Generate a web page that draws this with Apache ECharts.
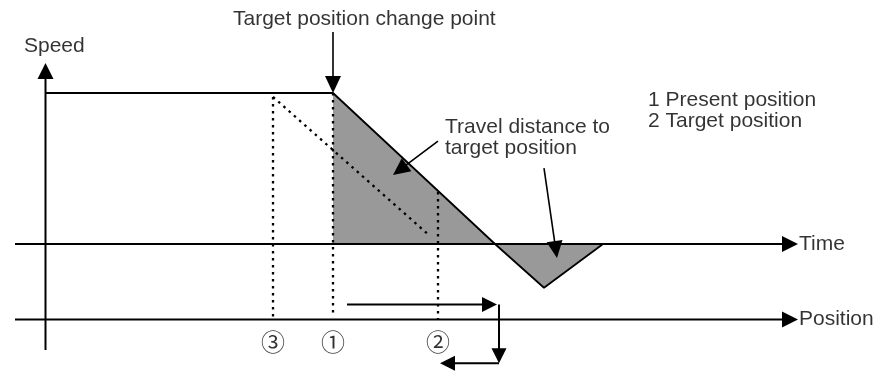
<!DOCTYPE html>
<html>
<head>
<meta charset="utf-8">
<script src="https://cdn.jsdelivr.net/npm/echarts@6/dist/echarts.min.js"></script>
<style>html,body{margin:0;padding:0;background:#fff}#c{width:877px;height:373px}</style>
</head>
<body>
<div id="c"></div>
<script>
// ---- data (time units on x, speed units on y; position axis drawn at y = -50) ----
const speedProfile = [[0, 100], [28.75, 100], [44.95, 0], [49.85, -29], [55.75, 0]];
const travelArea = [[28.75, 100], [44.95, 0], [49.85, -29], [55.75, 0]];
const dottedLines = [
  [22.75, 97.4, 22.75, -48],
  [22.75, 97.4, 38.45, 5.3],
  [28.75, 100, 28.75, -45.7],
  [39.25, 34.4, 39.25, -49.7]
];
const axisArrows = [
  [0, -70.2, 0, 119.9],
  [-3.05, 0, 75.25, 0],
  [-3.05, -50, 75.25, -50]
];
const pointerArrows = [
  [28.75, 140.4, 28.75, 100],
  [39.25, 68.2, 34.75, 45.7],
  [49.85, 50.3, 51.15, -9.3]
];
const positionArrows = [
  [30.15, -40, 45.15, -40],
  [45.35, -40, 45.35, -79],
  [45.35, -79, 39.45, -79]
];
const textLabels = [
  {text: 'Speed', t: -2.15, v: 131, align: 'left'},
  {text: 'Target position change point', t: 18.75, v: 149, align: 'left'},
  {text: 'Travel distance to\ntarget position', t: 39.95, v: 70.5, align: 'left'},
  {text: '1 Present position\n2 Target position', t: 60.25, v: 88, align: 'left'},
  {text: 'Time', t: 75.35, v: 0, align: 'left'},
  {text: 'Position', t: 75.35, v: -50, align: 'left'}
];
const markerLabels = [
  {text: '③', t: 22.75, v: -65},
  {text: '①', t: 28.75, v: -65},
  {text: '②', t: 39.25, v: -65}
];

// ---- rendering ----
const FONT = '"Liberation Sans", Arial, Helvetica, sans-serif';

function arrowSeries(data, lw, L, W) {
  return {
    type: 'custom', silent: true, data: data,
    renderItem: function (params, api) {
      const p1 = api.coord([api.value(0), api.value(1)]);
      const p2 = api.coord([api.value(2), api.value(3)]);
      const dx = p2[0] - p1[0], dy = p2[1] - p1[1];
      const len = Math.hypot(dx, dy);
      const ux = dx / len, uy = dy / len;
      const bx = p2[0] - ux * L, by = p2[1] - uy * L;
      return {
        type: 'group',
        children: [
          {type: 'line', shape: {x1: p1[0], y1: p1[1], x2: bx + ux * 2, y2: by + uy * 2},
           style: {stroke: '#000', lineWidth: lw}},
          {type: 'polygon', shape: {points: [[p2[0], p2[1]], [bx - uy * W, by + ux * W], [bx + uy * W, by - ux * W]]},
           style: {fill: '#000'}}
        ]
      };
    }
  };
}

const dottedSeries = {
  type: 'custom', silent: true, data: dottedLines,
  renderItem: function (params, api) {
    const p1 = api.coord([api.value(0), api.value(1)]);
    const p2 = api.coord([api.value(2), api.value(3)]);
    return {type: 'line', shape: {x1: p1[0], y1: p1[1], x2: p2[0], y2: p2[1]},
            style: {stroke: '#000', lineWidth: 2.3, lineDash: [2.5, 4.5]}};
  }
};

function labelSeries(items, fontFamily, fontSize, lineHeight) {
  return {
    type: 'scatter', silent: true, symbolSize: 0,
    data: items.map(function (l) {
      return {
        value: [l.t, l.v],
        label: {
          show: true, position: 'inside', formatter: l.text,
          align: l.align || 'center', verticalAlign: 'middle',
          color: '#000', fontFamily: fontFamily, fontSize: fontSize, lineHeight: lineHeight
        }
      };
    })
  };
}

const chart = echarts.init(document.getElementById('c'), null, {renderer: 'canvas'});
chart.setOption({
  animation: false,
  backgroundColor: '#fff',
  grid: {left: 5.5, top: 2.4, width: 870, height: 369.95},
  xAxis: {type: 'value', min: -4, max: 83, show: false},
  yAxis: {type: 'value', min: -85, max: 160, show: false},
  series: [
    {
      type: 'line', silent: true, data: travelArea, symbol: 'none',
      lineStyle: {width: 0}, areaStyle: {color: '#999999', opacity: 1}, z: 1
    },
    dottedSeries,
    {
      type: 'line', silent: true, data: speedProfile, symbol: 'none',
      lineStyle: {color: '#000', width: 1.8}, z: 3
    },
    arrowSeries(axisArrows, 2, 16, 8),
    arrowSeries(pointerArrows, 1.6, 17, 8),
    arrowSeries(positionArrows, 2, 15, 7.5),
    labelSeries(textLabels, FONT, 21, 21),
    labelSeries(markerLabels, '"Noto Sans CJK JP", "DejaVu Sans", sans-serif', 24, 24)
  ]
});
</script>
</body>
</html>
